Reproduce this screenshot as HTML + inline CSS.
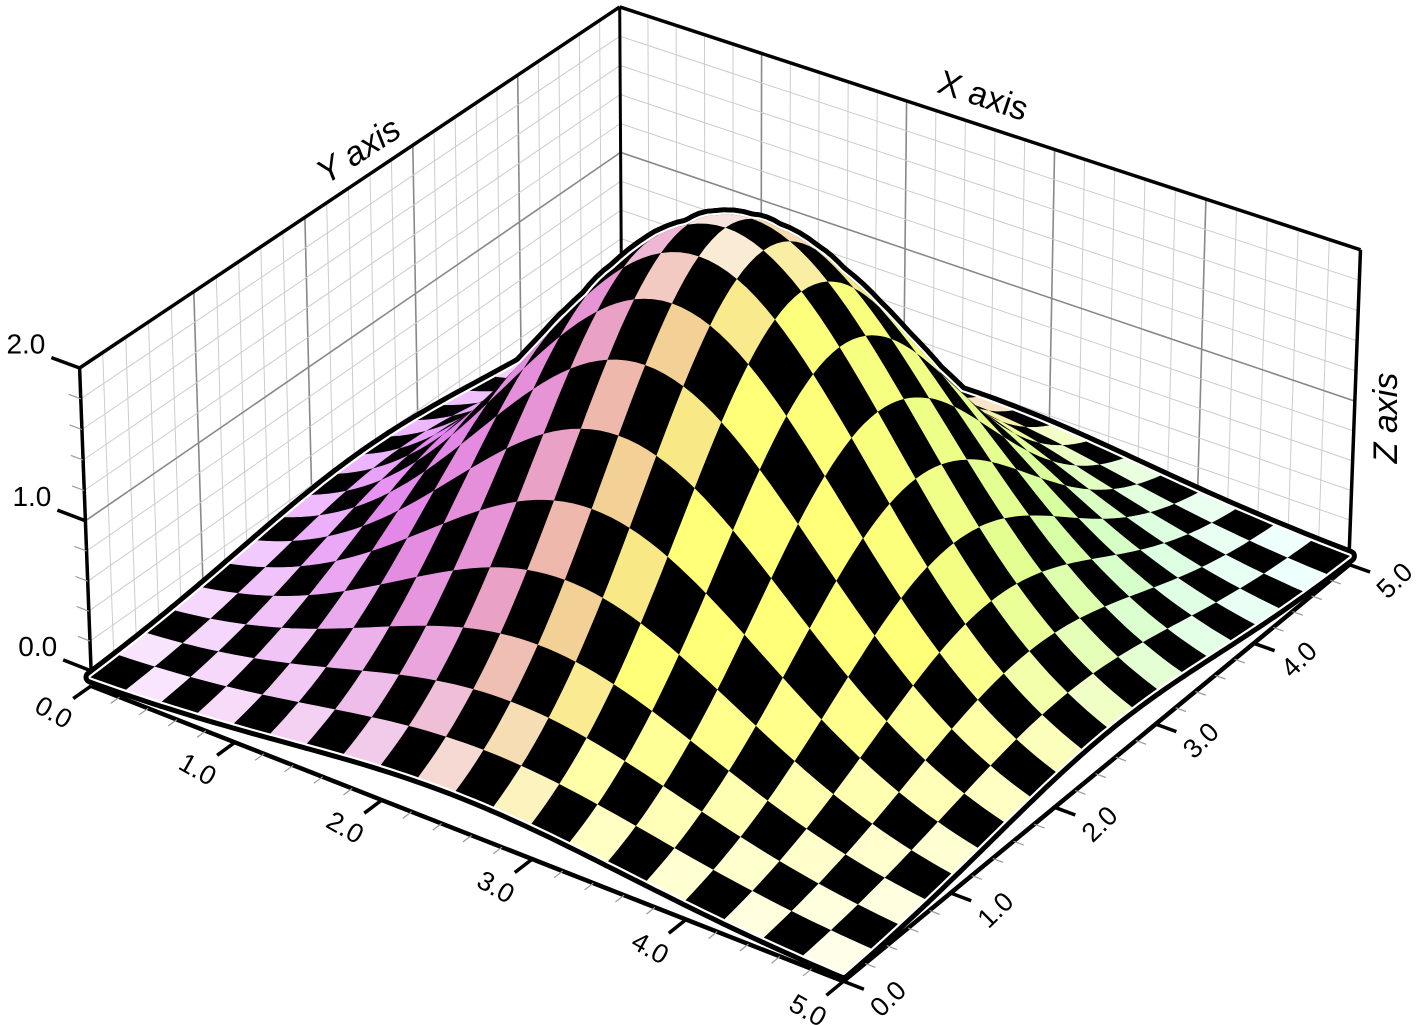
<!DOCTYPE html>
<html><head><meta charset="utf-8"><style>
html,body{margin:0;padding:0;background:#fff;}
svg{display:block;font-family:"Liberation Sans",sans-serif;}
</style></head><body>
<svg id="chart" width="1420" height="1025" viewBox="0 0 1420 1025" xmlns="http://www.w3.org/2000/svg">
<g id="walls"></g>
<g id="outline"></g>
<g id="surface"></g>
<g id="axes"></g>
<text x="983" y="107" font-size="34" text-anchor="middle" transform="rotate(18.5 983 96)">X axis</text>
<text x="358" y="162" font-size="34" font-style="italic" text-anchor="middle" transform="rotate(-33 358 150)">Y axis</text>
<text x="1385" y="430" font-size="34" font-style="italic" text-anchor="middle" transform="rotate(-90 1385 418)">Z axis</text>
</svg>
<script>
// calibration points: [u, v, z, screenX, screenY]
const calib = [
  [0,0,0,91,670],[0,0,2,80,367],[0,0,1,85.5,522],
  [5,0,0,843,967],[5,5,0,1350,548],[5,5,2,1360,252],[5,5,1,1355,400],
  [0,5,2,620,4],[0,5,1,620,156]
];
// surface parameters: amplitude, centerU, centerV, sigma
const peakParams = [2.58, 2.5, 2.5, 1.12];
const axisTicks = [0,1,2,3,4,5];
const axisTickLabels = ["0.0","1.0","2.0","3.0","4.0","5.0"];
const zTicks = [0,1,2];
const zTickLabels = ["0.0","1.0","2.0"];
const nCells = 20;

const NS = "http://www.w3.org/2000/svg";
function solveCam(pts){
  const rows=[],b=[];
  pts.forEach(p=>{const [X,Y,Z,x,y]=p;
    rows.push([X,Y,Z,1,0,0,0,0,-x*X,-x*Y,-x*Z]);b.push(x);
    rows.push([0,0,0,0,X,Y,Z,1,-y*X,-y*Y,-y*Z]);b.push(y);});
  const n=11,M=[];
  for(let i=0;i<n;i++){M.push([]);for(let j=0;j<=n;j++){let s=0;
    for(let k=0;k<rows.length;k++) s+=rows[k][i]*(j<n?rows[k][j]:b[k]);M[i].push(s);}}
  for(let c=0;c<n;c++){let piv=c;for(let r=c+1;r<n;r++)if(Math.abs(M[r][c])>Math.abs(M[piv][c]))piv=r;
    [M[c],M[piv]]=[M[piv],M[c]];
    for(let r=0;r<n;r++){if(r===c)continue;const f=M[r][c]/M[c][c];for(let j=c;j<=n;j++)M[r][j]-=f*M[c][j];}}
  return M.map((r,i)=>r[n]/r[i]);
}
const P=solveCam(calib);
function proj(u,v,z,dy){
  const w=P[8]*u+P[9]*v+P[10]*z+1;
  return [(P[0]*u+P[1]*v+P[2]*z+P[3])/w,(P[4]*u+P[5]*v+P[6]*z+P[7])/w+(dy||0),w];
}
function zf(u,v){const [H,uc,vc,s]=peakParams;return H*Math.exp(-((u-uc)**2+(v-vc)**2)/(2*s*s));}
function mk(tag,attrs,parent){const e=document.createElementNS(NS,tag);for(const k in attrs)e.setAttribute(k,attrs[k]);parent.appendChild(e);return e;}
function line(parent,a,b,stroke,w,name){
  const e=mk('line',{x1:a[0].toFixed(1),y1:a[1].toFixed(1),x2:b[0].toFixed(1),y2:b[1].toFixed(1),stroke:stroke,'stroke-width':w,'stroke-linecap':'butt'},parent);
  
  
  return e;
}
// walls
const walls=document.getElementById('walls');
for(let i=0;i<=25;i++){const v=i*0.2,maj=(i%5===0);
  line(walls,proj(0,v,0),proj(0,v,2),maj?'#888':'#ccc',maj?1.6:1,'left-wall-gridline');
  line(walls,proj(v,5,0),proj(v,5,2),maj?'#888':'#ccc',maj?1.6:1,'right-wall-gridline');}
for(let i=0;i<=10;i++){const z=i*0.2,maj=(i%5===0);
  line(walls,proj(0,0,z),proj(0,5,z),maj?'#888':'#ccc',maj?1.6:1,'left-wall-z-gridline');
  line(walls,proj(0,5,z),proj(5,5,z),maj?'#888':'#ccc',maj?1.6:1,'right-wall-z-gridline');}
line(walls,proj(0,0,2),proj(0,5,2),'#000',3.5,'left-wall-top-edge');
line(walls,proj(0,5,2),proj(5,5,2),'#000',3.5,'right-wall-top-edge');
line(walls,proj(0,0,0),proj(0,0,2),'#000',3.5,'z-axis-line');
line(walls,proj(5,5,0),proj(5,5,2),'#000',3.5,'right-wall-edge');
line(walls,proj(0,5,0),proj(0,5,2),'#000',3,'back-wall-edge');
// surface
const SDY=9;
const stops=[[0,[222,115,255]],[2,[230,150,210]],[2.6,[242,205,150]],[3.1,[255,255,120]],[5,[255,255,120]]];
function baseCol(u,v){let c=stops[0][1];
  for(let i=0;i<stops.length-1;i++){const[a,ca]=stops[i],[b,cb]=stops[i+1];
    if(u>=a&&u<=b){const t=(u-a)/(b-a);c=ca.map((x,k)=>x+(cb[k]-x)*t);}}
  const w=Math.min(1,Math.max(0,(u-2.8)/2))*Math.min(1,Math.max(0,(v-2)/3));
  const green=[185,255,185],cyan=[170,255,255];
  const tgt=w<0.5?c.map((x,k)=>x+(green[k]-x)*w*2):green.map((x,k)=>x+(cyan[k]-x)*(w-0.5)*2);
  return tgt;}
const d=5/nCells,cells=[];
const wB=proj(5,0,0)[2],wD=proj(0,5,0)[2];
for(let i=0;i<nCells;i++)for(let j=0;j<nCells;j++){
  const u0=i*d,v0=j*d,pts=[],S=4;
  for(let k=0;k<S;k++)pts.push([u0+d*k/S,v0]);
  for(let k=0;k<S;k++)pts.push([u0+d,v0+d*k/S]);
  for(let k=0;k<S;k++)pts.push([u0+d-d*k/S,v0+d]);
  for(let k=0;k<S;k++)pts.push([u0,v0+d-d*k/S]);
  const scr=pts.map(p=>proj(p[0],p[1],zf(p[0],p[1]),SDY));
  const uc=u0+d/2,vc=v0+d/2,zc=zf(uc,vc);
  const depth=(proj(uc,vc,zc)[2]-wB)/(wD-wB);
  let fill='#000';
  if((i+j)%2===1){const e=1e-3,gx=(zf(uc+e,vc)-zf(uc-e,vc))/(2*e),gy=(zf(uc,vc+e)-zf(uc,vc-e))/(2*e);
    const g=Math.sqrt(gx*gx+gy*gy);const s=0.1+0.9*Math.min(1,g/1.05);
    const c=baseCol(uc,vc).map(x=>Math.round(255+(x-255)*s));fill=`rgb(${c[0]},${c[1]},${c[2]})`;}
  cells.push({depth,pstr:scr.map(p=>p[0].toFixed(1)+','+p[1].toFixed(1)).join(' '),fill});}
cells.sort((a,b)=>b.depth-a.depth);
const og=document.getElementById('outline'),sg=document.getElementById('surface');
cells.forEach(c=>{const e=mk('polygon',{points:c.pstr,fill:'#000',stroke:'#000','stroke-width':15,'stroke-linejoin':'round'},og);
  
  });
cells.forEach(c=>{const e=mk('polygon',{points:c.pstr,fill:'#fff',stroke:'#fff','stroke-width':5,'stroke-linejoin':'round'},og);
  
  });
cells.forEach(c=>{const e=mk('polygon',{points:c.pstr,fill:c.fill,stroke:c.fill,'stroke-width':0.6},sg);
  
  });
// axes
const ax=document.getElementById('axes'),ADY=15;
function unit(a,b){const dx=b[0]-a[0],dy=b[1]-a[1],l=Math.hypot(dx,dy);return[dx/l,dy/l];}
line(ax,proj(0,0,0,ADY),proj(5,0,0,ADY),'#000',4.5,'front-left-axis-line');
line(ax,proj(5,0,0,ADY),proj(5,5,0,ADY),'#000',4.5,'front-right-axis-line');
const angL=Math.atan2(...unit(proj(0,0,0),proj(5,0,0)).reverse())*180/Math.PI;
const angR=Math.atan2(...unit(proj(5,0,0),proj(5,5,0)).reverse())*180/Math.PI;
for(let i=0;i<=25;i++){const t=i*0.2,maj=(i%5===0),L=maj?22:11;
  const a=proj(t,0,0,ADY),dd=unit(proj(t,0,0),proj(t,-0.3,0));
  line(ax,a,[a[0]+dd[0]*L,a[1]+dd[1]*L],maj?'#000':'#999',maj?3.5:1.2,'front-left-axis-tick');
  const b=proj(5,t,0,ADY),de=unit(proj(5,t,0),proj(5.3,t,0));
  line(ax,b,[b[0]+de[0]*L,b[1]+de[1]*L],maj?'#000':'#999',maj?3.5:1.2,'front-right-axis-tick');}
axisTicks.forEach((t,k)=>{
  const a=proj(t,0,0,ADY),dd=unit(proj(t,0,0),proj(t,-0.3,0));
  const lx=a[0]+dd[0]*46,ly=a[1]+dd[1]*46;
  const e=mk('text',{x:lx.toFixed(1),y:(ly+9).toFixed(1),'font-size':27,'text-anchor':'middle',transform:`rotate(${(angL+8).toFixed(1)} ${lx.toFixed(1)} ${ly.toFixed(1)})`},ax);
  e.textContent=axisTickLabels[k];
  
  
  const b=proj(5,t,0,ADY),de=unit(proj(5,t,0),proj(5.3,t,0));
  const mx=b[0]+de[0]*48,my=b[1]+de[1]*48;
  const f=mk('text',{x:mx.toFixed(1),y:(my+9).toFixed(1),'font-size':27,'text-anchor':'middle',transform:`rotate(${(angR-5).toFixed(1)} ${mx.toFixed(1)} ${my.toFixed(1)})`},ax);
  f.textContent=axisTickLabels[k];
  
  });
for(let i=0;i<=10;i++){const z=i*0.2,maj=(i%5===0),L=maj?30:13;
  const a=proj(0,0,z),dd=unit(proj(0,0,z),proj(-0.3,0,z));
  line(ax,a,[a[0]+dd[0]*L,a[1]+dd[1]*L],maj?'#000':'#999',maj?3.5:1.2,'z-axis-tick');}
zTicks.forEach((z,k)=>{const a=proj(0,0,z),dd=unit(proj(0,0,z),proj(-0.3,0,z));
  const ex=a[0]+dd[0]*30,ey=a[1]+dd[1]*30;
  const e=mk('text',{x:(ex-6).toFixed(1),y:(ey-4).toFixed(1),'font-size':28,'text-anchor':'end'},ax);
  e.textContent=zTickLabels[k];
  
  });
</script>
</body></html>
